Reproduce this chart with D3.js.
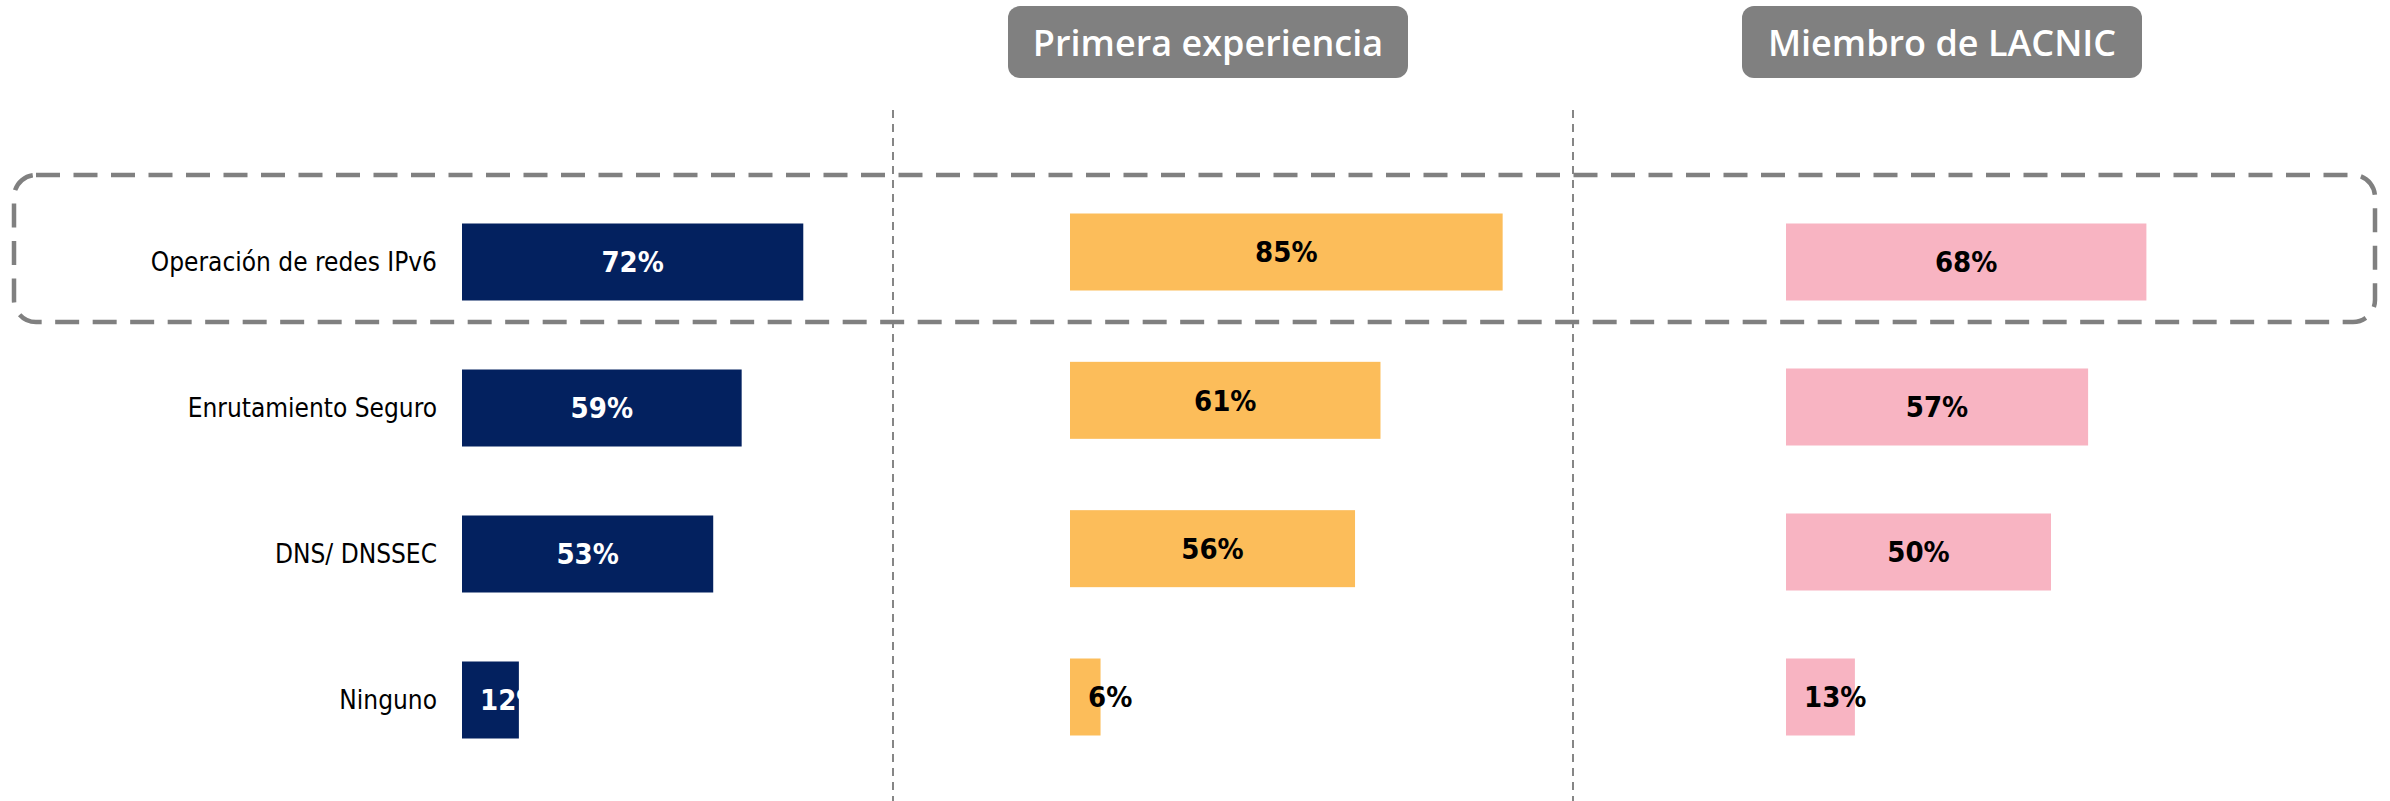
<!DOCTYPE html>
<html>
<head>
  <meta charset="utf-8">
  <script src="https://d3js.org/d3.v7.min.js"></script>
  <style>
    body { margin: 0; background: #fff; }
    .cat { font-family: "DejaVu Sans Condensed", "DejaVu Sans", sans-serif; font-size: 26px; fill: #000; }
    .val { font-family: "DejaVu Sans Condensed", "DejaVu Sans", sans-serif; font-size: 29px; font-weight: bold; }
    .head { font-family: "Open Sans", sans-serif; font-size: 36px; font-weight: 600; fill: #fff; }
  </style>
</head>
<body>
<script>
  // values
  var categories = ["Operación de redes IPv6", "Enrutamiento Seguro", "DNS/ DNSSEC", "Ninguno"];
  var totalValues = [72, 59, 53, 12];
  var primeraValues = [85, 61, 56, 6];
  var miembroValues = [68, 57, 50, 13];
  var panelTitles = ["Primera experiencia", "Miembro de LACNIC"];

  var width = 2390, height = 801;

  var svg = d3.select("body").append("svg")
    .attr("width", width)
    .attr("height", height);

  // each panel has its own scale, like the original slide
  var panels = [
    { values: totalValues, x0: 462, len: 474, y: [262, 700], fill: "#03215f", text: "#fff" },
    { values: primeraValues, x0: 1070, len: 509, y: [252, 697], fill: "#fcbd5a", text: "#000" },
    { values: miembroValues, x0: 1786, len: 530, y: [262, 697], fill: "#f8b4c2", text: "#000" }
  ];
  var barH = 77;

  // vertical separators
  svg.selectAll("line.sep")
    .data([893, 1573])
    .enter().append("line")
    .attr("class", "sep")
    .attr("x1", function(d) { return d; })
    .attr("x2", function(d) { return d; })
    .attr("y1", 110)
    .attr("y2", height)
    .attr("stroke", "#868686")
    .attr("stroke-width", 2)
    .attr("stroke-dasharray", "8,6");

  // highlight box around first row
  svg.append("rect")
    .attr("x", 14)
    .attr("y", 175)
    .attr("width", 2361)
    .attr("height", 147)
    .attr("rx", 22)
    .attr("fill", "none")
    .attr("stroke", "#808080")
    .attr("stroke-width", 4.5)
    .attr("stroke-dasharray", "24,13.5");

  // header boxes
  var heads = svg.selectAll("g.headbox")
    .data(panelTitles)
    .enter().append("g")
    .attr("class", "headbox")
    .attr("transform", function(d, i) {
      return "translate(" + [1208, 1942][i] + ",0)";
    });

  heads.append("rect")
    .attr("x", -200)
    .attr("y", 6)
    .attr("width", 400)
    .attr("height", 72)
    .attr("rx", 12)
    .attr("fill", "#808080");

  heads.append("text")
    .attr("class", "head")
    .attr("x", 0)
    .attr("y", 56)
    .attr("text-anchor", "middle")
    .text(function(d) { return d; });

  // category labels
  var yCat = d3.scalePoint().domain(categories).range(panels[0].y);
  svg.selectAll("text.cat")
    .data(categories)
    .enter().append("text")
    .attr("class", "cat")
    .attr("x", 437)
    .attr("y", function(d) { return yCat(d); })
    .attr("dy", "0.35em")
    .attr("text-anchor", "end")
    .text(function(d) { return d; });

  panels.forEach(function(p) {
    var x = d3.scaleLinear().domain([0, 100]).range([0, p.len]);
    var y = d3.scalePoint().domain(categories).range(p.y);
    var rows = categories.map(function(c, i) { return { cat: c, v: p.values[i] }; });

    var g = svg.append("g").attr("transform", "translate(" + p.x0 + ",0)");

    g.selectAll("rect")
      .data(rows)
      .enter().append("rect")
      .attr("x", 0)
      .attr("y", function(d) { return y(d.cat) - barH / 2; })
      .attr("width", function(d) { return x(d.v); })
      .attr("height", barH)
      .attr("fill", p.fill);

    g.selectAll("text")
      .data(rows)
      .enter().append("text")
      .attr("class", "val")
      .attr("y", function(d) { return y(d.cat); })
      .attr("dy", "0.36em")
      .attr("text-anchor", "middle")
      .attr("fill", p.text)
      .text(function(d) { return d.v + "%"; })
      .attr("x", function(d) {
        var w = this.getComputedTextLength();
        return Math.max(x(d.v) / 2, 18 + w / 2);
      });
  });
</script>
</body>
</html>
